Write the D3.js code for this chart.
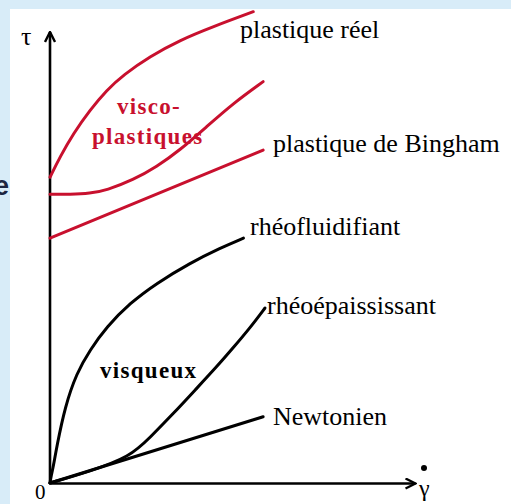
<!DOCTYPE html>
<html><head><meta charset="utf-8">
<script src="https://cdn.jsdelivr.net/npm/d3@7"></script>
<style>html,body{margin:0;padding:0;background:#d8ecf8;overflow:hidden}</style>
</head><body>
<script>
// Data (x: shear rate units 0-100, y: stress units 0-100)
const plastiqueReelX = [0, 2.74, 6.4, 10.96, 15.5, 20.1, 27.4, 35.6, 44.7, 55.7];
const plastiqueReelY = [67.8, 72.3, 77.5, 82.7, 87.1, 90.5, 94.6, 98.2, 101.2, 104.5];
const viscoX = [0, 5.5, 10.96, 15.5, 22.8, 29.2, 35.6, 42.9, 50.2, 58.4];
const viscoY = [64.0, 64.0, 64.2, 64.9, 67.2, 70.1, 73.8, 79.0, 84.2, 89.0];
const binghamX = [0, 58.4];
const binghamY = [54.3, 73.8];
const fluidX = [0, 0.3, 0.9, 1.84, 4.1, 7.3, 10.96, 15.5, 21.9, 29.2, 38.4, 46.6, 53.0];
const fluidY = [0, 1.5, 3.6, 8.0, 16.9, 24.4, 29.5, 34.6, 39.9, 44.3, 48.8, 52.1, 54.3];
const epaisX = [0, 10.96, 21.9, 27.4, 33.8, 40.2, 45.7, 50.2, 54.8, 58.9];
const epaisY = [0, 2.6, 5.8, 10.1, 15.4, 21.0, 25.8, 30.0, 34.4, 38.8];
const newtonX = [0, 58.4];
const newtonY = [0, 14.7];

const W = 511, H = 504;
const RED = "#c8102e", BLACK = "#000";
const svg = d3.select("body").append("svg").attr("width", W).attr("height", H);
svg.append("rect").attr("width", W).attr("height", H).attr("fill", "#d8ecf8");
svg.append("rect").attr("x", 10).attr("y", 9).attr("width", W - 10).attr("height", H - 9).attr("fill", "#fff");
svg.append("text").attr("x", -6).attr("y", 195).attr("font-family", "Liberation Sans, Arial, sans-serif")
  .attr("font-weight", "bold").attr("font-size", 27).attr("fill", "#1c2540").text("e");

const x = d3.scaleLinear().domain([0, 100]).range([50, 415]);
const y = d3.scaleLinear().domain([0, 100]).range([483, 32]);

const defs = svg.append("defs");
defs.append("marker").attr("id", "arr").attr("viewBox", "0 0 12 12").attr("refX", 11).attr("refY", 6)
  .attr("markerWidth", 12).attr("markerHeight", 12).attr("markerUnits", "userSpaceOnUse").attr("orient", "auto")
  .append("path").attr("d", "M1,1 L11,6 L1,11").attr("fill", "none").attr("stroke", "#000").attr("stroke-width", 2.4);

// axes
const gx = svg.append("g").attr("transform", `translate(0,${y(0)})`)
  .call(d3.axisBottom(x).ticks(0).tickSizeOuter(0));
gx.select(".domain").attr("stroke", "#000").attr("stroke-width", 2.6).attr("marker-end", "url(#arr)");
const gy = svg.append("g").attr("transform", `translate(${x(0)},0)`)
  .call(d3.axisLeft(y).ticks(0).tickSizeOuter(0));
gy.select(".domain").attr("stroke", "#000").attr("stroke-width", 2.6).attr("d", `M0,${y(0)+1}V${y(100)}`).attr("marker-end", "url(#arr)");

const line = d3.line().x(d => x(d[0])).y(d => y(d[1])).curve(d3.curveBasis);
function series(xs, ys, color) {
  svg.append("path").datum(xs.map((v, i) => [v, ys[i]])).attr("d", line)
    .attr("fill", "none").attr("stroke", color).attr("stroke-width", 3).attr("stroke-linecap", "round");
}
series(plastiqueReelX, plastiqueReelY, RED);
series(viscoX, viscoY, RED);
series(binghamX, binghamY, RED);
series(fluidX, fluidY, BLACK);
series(epaisX, epaisY, BLACK);
series(newtonX, newtonY, BLACK);

const serif = "Liberation Serif, Times New Roman, serif";
function label(t, px, py, opts = {}) {
  svg.append("text").attr("x", px).attr("y", py).attr("font-family", serif)
    .attr("font-size", opts.size || 26).attr("font-weight", opts.bold ? "bold" : "normal")
    .attr("letter-spacing", opts.ls || 0).attr("fill", opts.color || "#000").text(t);
}
label("plastique réel", 240, 38);
label("plastique de Bingham", 273, 152);
label("rhéofluidifiant", 250, 235);
label("rhéoépaississant", 267, 314);
label("Newtonien", 273, 425);
label("visco-", 117, 114, {bold: true, color: RED, size: 23, ls: 1.3});
label("plastiques", 92, 144, {bold: true, color: RED, size: 23, ls: 1.3});
label("visqueux", 100, 378, {bold: true, size: 23, ls: 1.3});
label("τ", 21, 45, {size: 26});
label("0", 35, 499, {size: 21});
label("γ", 419, 496, {size: 24});
svg.append("circle").attr("cx", 424).attr("cy", 468).attr("r", 3).attr("fill", "#000");
</script>
</body></html>
